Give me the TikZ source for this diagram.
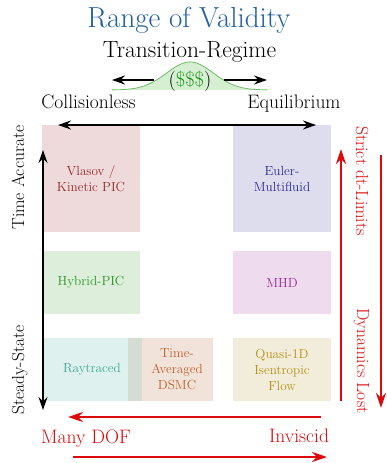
\documentclass[tikz,border=0pt]{standalone}
\usepackage{fontspec}
\usepackage{tikz}
\usetikzlibrary{arrows.meta}
\usetikzlibrary{positioning}

\definecolor{titleblue}{RGB}{31,95,160}
\definecolor{bumpline}{RGB}{110,190,100}
\definecolor{bumpfill}{RGB}{214,238,210}
\definecolor{costgreen}{RGB}{20,150,20}
\definecolor{limitred}{RGB}{220,10,10}
\definecolor{vlasovfill}{RGB}{238,218,219}
\definecolor{vlasovtext}{RGB}{150,40,40}
\definecolor{eulerfill}{RGB}{221,221,238}
\definecolor{eulertext}{RGB}{40,40,145}
\definecolor{hybridfill}{RGB}{221,238,218}
\definecolor{hybridtext}{RGB}{40,150,40}
\definecolor{mhdfill}{RGB}{238,220,238}
\definecolor{mhdtext}{RGB}{150,40,150}
\definecolor{rayfill}{RGB}{223,241,238}
\definecolor{raytext}{RGB}{60,170,150}
\definecolor{dsmcfill}{RGB}{242,227,218}
\definecolor{dsmctext}{RGB}{190,95,45}
\definecolor{overlapfill}{RGB}{213,220,210}
\definecolor{quasifill}{RGB}{242,236,218}
\definecolor{quasitext}{RGB}{180,145,20}

\tikzstyle{cell}=[rectangle, inner sep=0pt, align=center, font=\fontsize{13.2}{16}\selectfont]
\tikzstyle{sidelabel}=[anchor=base, font=\fontsize{17.5}{20}\selectfont]
\tikzstyle{endlabel}=[anchor=base, font=\fontsize{19.5}{22}\selectfont]
\tikzstyle{trend}=[line width=2pt, -{Stealth[length=13pt,width=9pt]}]
\tikzstyle{limit}=[draw=limitred, line width=2.5pt, -{Stealth[length=15pt,width=10pt]}]

\begin{document}
\begin{tikzpicture}[x=1pt,y=-1pt]
  \useasboundingbox (0,0) rectangle (386,463);

  % heading
  \node[anchor=base, text=titleblue, font=\fontsize{29}{34}\selectfont] (title) at (189,27.5) {Range of Validity};
  \node[anchor=base, font=\fontsize{23.5}{27}\selectfont] (regime) at (189.5,57) {Transition-Regime};

  % cost of the transition regime
  \fill[bumpfill] plot[domain=112:267, samples=80] (\x,{90-28*exp(-(((\x-190)/33)^2))}) -- cycle;
  \draw[bumpline, line width=0.8pt] plot[domain=112:267, samples=80] (\x,{90-28*exp(-(((\x-190)/33)^2))});
  \node[anchor=base, font=\fontsize{20.5}{24}\selectfont] (cost) at (190,86) {(\textcolor{costgreen}{\$\$\$})};
  \coordinate (costl) at (154,80);
  \coordinate (costr) at (224,80);
  \coordinate (colltip) at (112,80);
  \coordinate (equitip) at (267,80);
  \draw[trend] (costl) -- (colltip);
  \draw[trend] (costr) -- (equitip);

  \node[endlabel] (colless) at (88.5,108) {Collisionless};
  \node[endlabel] (equil) at (294,108) {Equilibrium};

  % models
  \node[cell, fill=vlasovfill, text=vlasovtext, minimum width=98pt, minimum height=107pt] (vlasov) at (91,178.5) {Vlasov /\\Kinetic PIC};
  \node[cell, fill=eulerfill, text=eulertext, minimum width=98pt, minimum height=107pt] (euler) at (282,178.5) {Euler-\\Multifluid};
  \node[cell, fill=hybridfill, text=hybridtext, minimum width=98pt, minimum height=63pt] (hybrid) at (91,282.5) {Hybrid-PIC};
  \node[cell, fill=mhdfill, text=mhdtext, minimum width=98pt, minimum height=63pt] (mhd) at (282,282.5) {MHD};
  \node[cell, fill=rayfill, text=raytext, minimum width=100pt, minimum height=63pt] (ray) at (92,369.5) {Raytraced};
  \node[cell, fill=dsmcfill, minimum width=85pt, minimum height=63pt] (dsmc) at (170.5,369.5) {};
  \fill[overlapfill] (128,338) rectangle (142,401);
  \node[cell, text=dsmctext] (dsmctext) at (177,369.5) {Time-\\Averaged\\DSMC};
  \node[cell, fill=quasifill, text=quasitext, minimum width=98pt, minimum height=63pt] (quasi) at (282,369.5) {Quasi-1D\\Isentropic\\Flow};

  % black axes
  \coordinate (colltop) at (58,125);
  \coordinate (equitop) at (316,125);
  \draw[trend, {Stealth[length=13pt,width=9pt]}-{Stealth[length=13pt,width=9pt]}] (colltop) -- (equitop);
  \coordinate (timetip) at (43,150);
  \coordinate (steadytip) at (43,410);
  \draw[trend, {Stealth[length=13pt,width=9pt]}-{Stealth[length=13pt,width=9pt]}] (timetip) -- (steadytip);
  \node[sidelabel, rotate=90] (timeacc) at (24,177.5) {Time Accurate};
  \node[sidelabel, rotate=90] (steady) at (24,370) {Steady-State};

  % red trends
  \coordinate (dtlow) at (341,401);
  \coordinate (dthigh) at (341,149);
  \draw[limit] (dtlow) -- (dthigh);
  \coordinate (dynhigh) at (381,155);
  \coordinate (dynlow) at (381,408);
  \draw[limit] (dynhigh) -- (dynlow);
  \node[sidelabel, rotate=-90, text=limitred] (strict) at (356,181) {Strict dt-Limits};
  \node[sidelabel, rotate=-90, text=limitred] (dynlost) at (357,361) {Dynamics Lost};

  \coordinate (invright) at (321,417);
  \coordinate (dofleft) at (68,417);
  \draw[limit] (invright) -- (dofleft);
  \coordinate (dofstart) at (73,457);
  \coordinate (invend) at (327,457);
  \draw[limit] (dofstart) -- (invend);
  \node[endlabel, text=limitred] (dof) at (86,443) {Many DOF};
  \node[endlabel, text=limitred] (inviscid) at (299,442) {Inviscid};
\end{tikzpicture}
\end{document}
